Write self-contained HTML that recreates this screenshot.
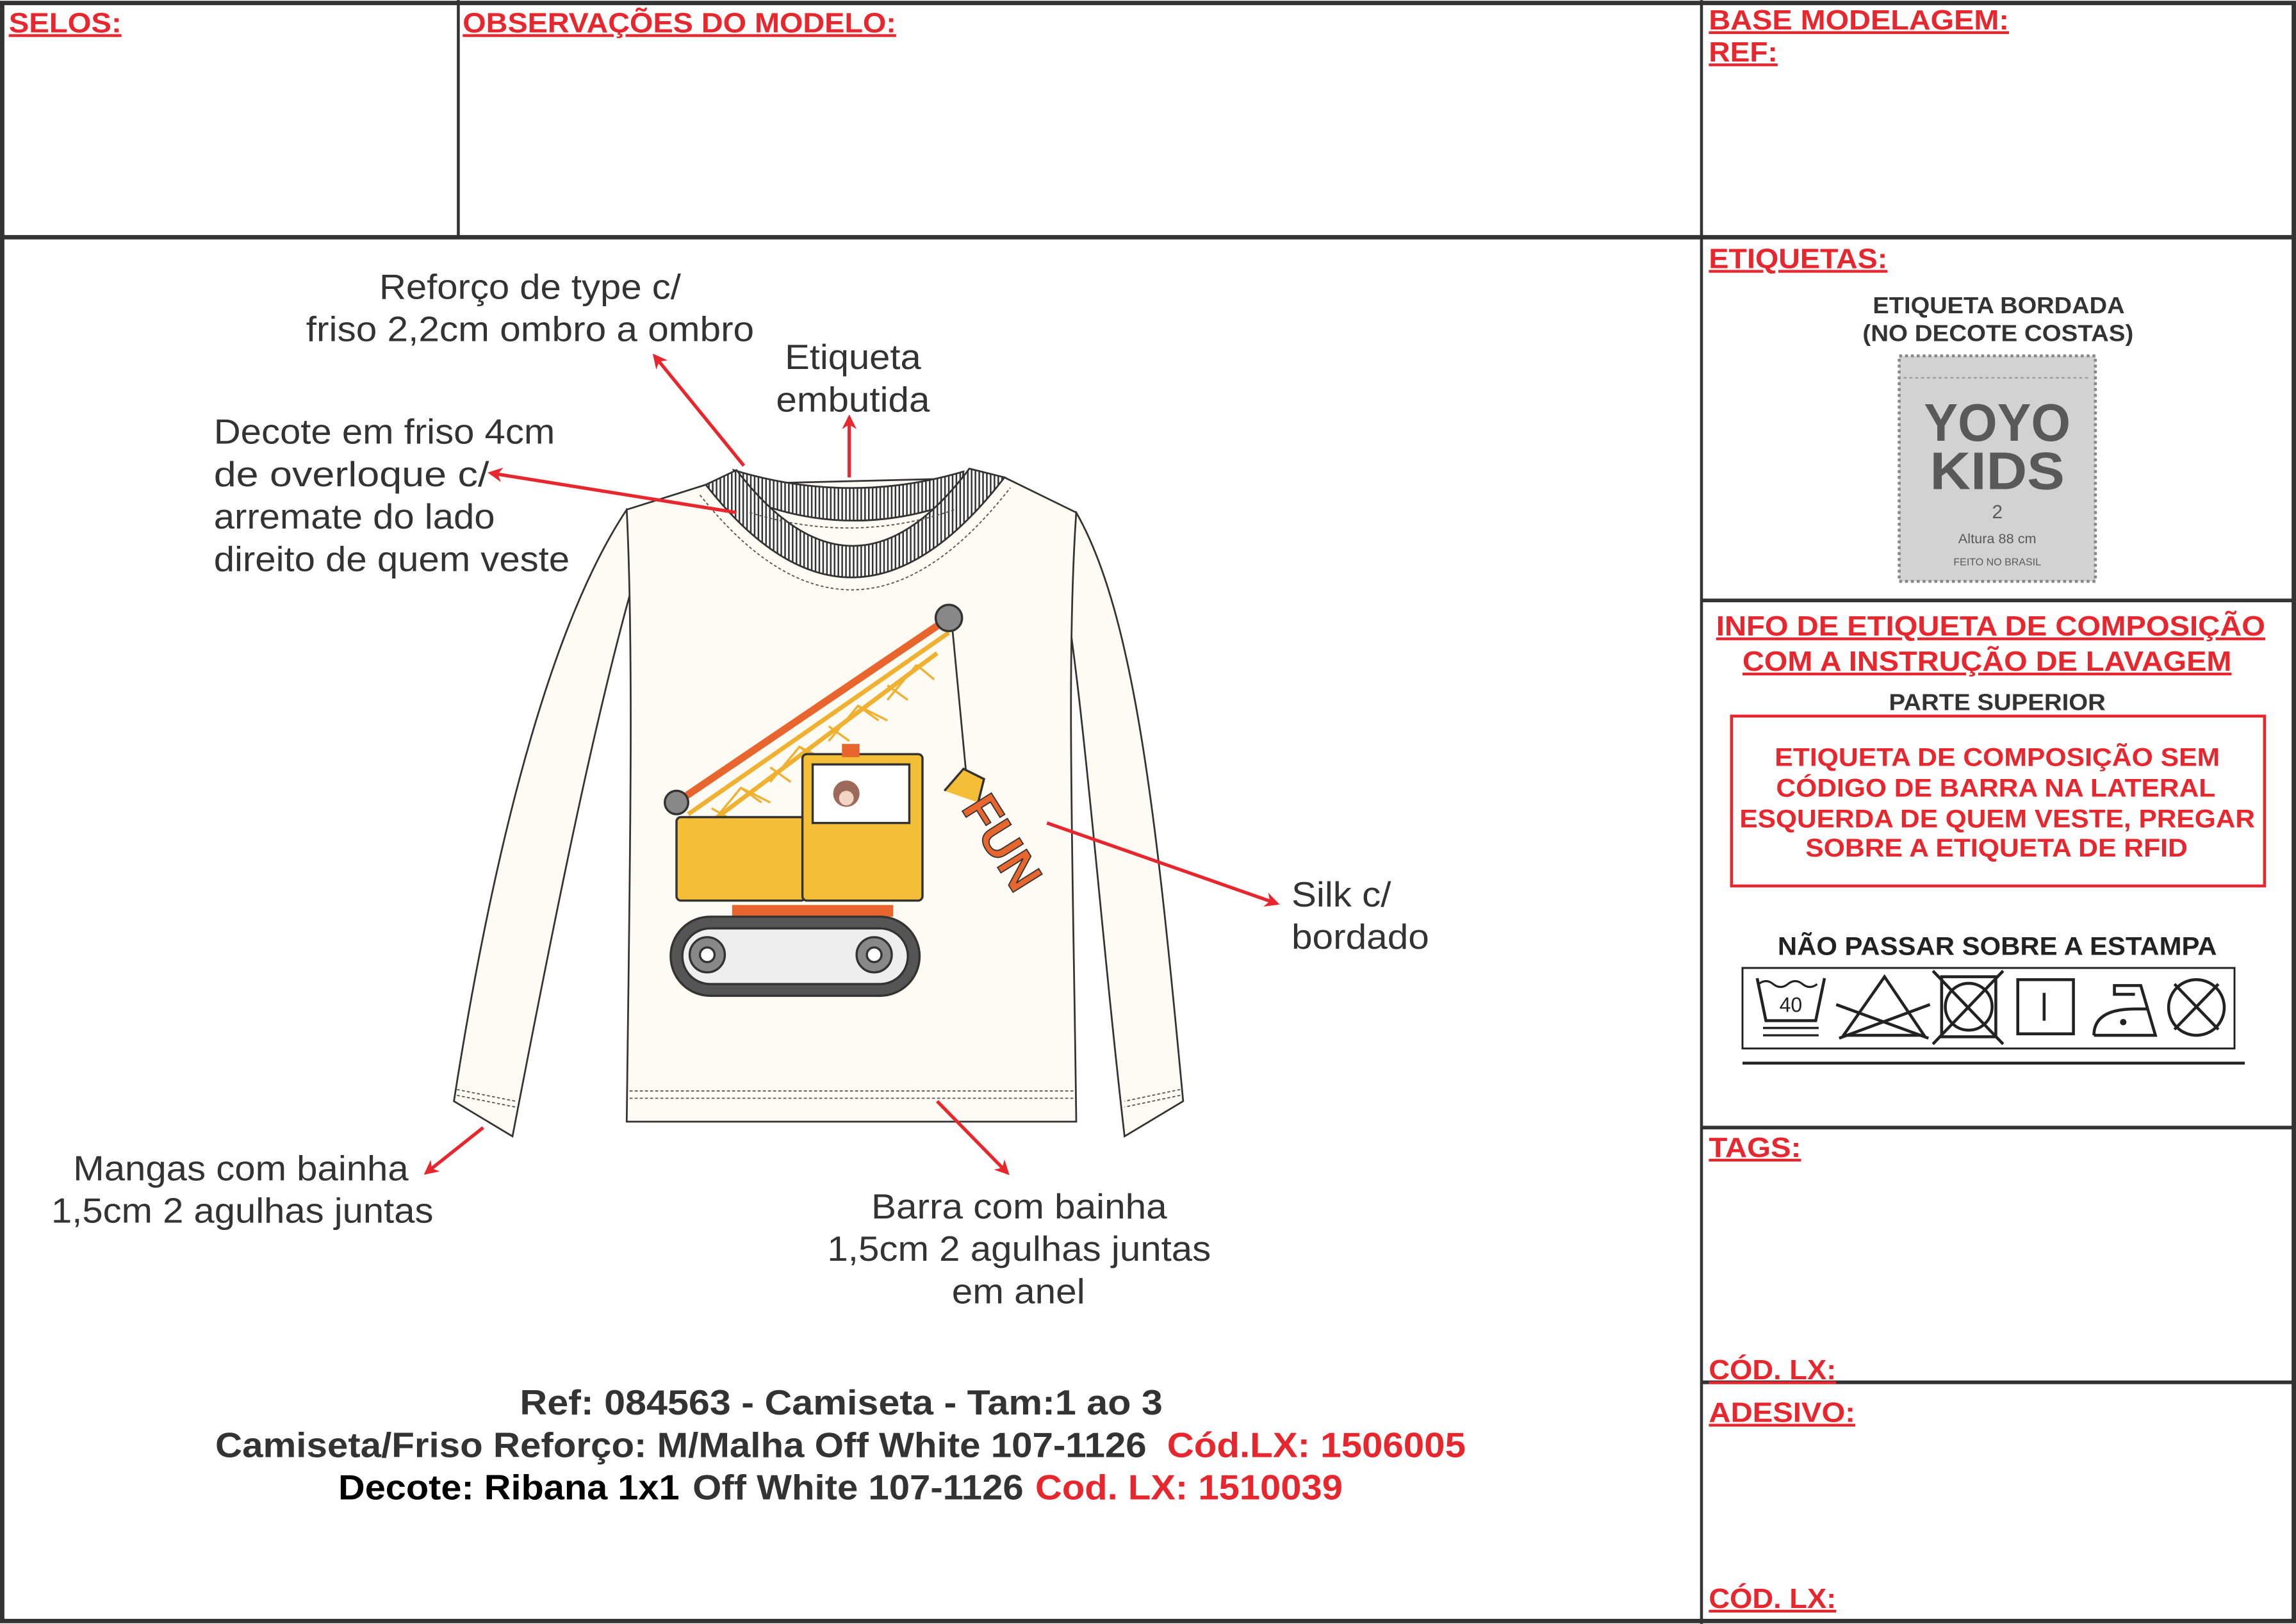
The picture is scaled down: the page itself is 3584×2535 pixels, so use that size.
<!DOCTYPE html>
<html><head><meta charset="utf-8"><style>
html,body{margin:0;padding:0;background:#fff;}
svg{display:block;}
text{font-family:"Liberation Sans",Arial,sans-serif;}
.r{fill:#e8262d;font-weight:bold;text-decoration:underline;font-size:19px;}
</style></head><body>
<svg width="3584" height="2535" viewBox="0 0 1568 1109" xmlns="http://www.w3.org/2000/svg">
<defs>
<marker id="ah" markerWidth="10" markerHeight="10" refX="8" refY="5" orient="auto" markerUnits="userSpaceOnUse" viewBox="0 0 10 10">
<path d="M0,0 L10,5 L0,10 L3,5 Z" fill="#e8262d"/></marker>
<pattern id="rib" width="2.6" height="3" patternUnits="userSpaceOnUse"><rect width="2.6" height="3" fill="#fff"/><rect width="1.1" height="3" fill="#333"/></pattern>
</defs>
<rect x="0" y="0" width="1568" height="1109" fill="#fff"/>
<g stroke="#333" fill="none">
<rect x="1.5" y="2" width="1565" height="1105" stroke-width="3"/>
<line x1="0" y1="162" x2="1568" y2="162" stroke-width="3"/>
<line x1="313" y1="0" x2="313" y2="162" stroke-width="2"/>
<line x1="1162" y1="0" x2="1162" y2="1109" stroke-width="2"/>
<line x1="1162" y1="410" x2="1568" y2="410" stroke-width="2.5"/>
<line x1="1162" y1="770" x2="1568" y2="770" stroke-width="2.5"/>
<line x1="1162" y1="944" x2="1568" y2="944" stroke-width="2.5"/>
</g>
<g>
<text class="r" x="6" y="22" textLength="77" lengthAdjust="spacingAndGlyphs">SELOS:</text>
<text class="r" x="316" y="22" textLength="296" lengthAdjust="spacingAndGlyphs">OBSERVAÇÕES DO MODELO:</text>
<text class="r" x="1167" y="20" textLength="205" lengthAdjust="spacingAndGlyphs">BASE MODELAGEM:</text>
<text class="r" x="1167" y="42" textLength="47" lengthAdjust="spacingAndGlyphs">REF:</text>
<text class="r" x="1167" y="183" textLength="122" lengthAdjust="spacingAndGlyphs">ETIQUETAS:</text>
<text class="r" x="1167" y="790" textLength="63" lengthAdjust="spacingAndGlyphs">TAGS:</text>
<text class="r" x="1167" y="942" textLength="87" lengthAdjust="spacingAndGlyphs">CÓD. LX:</text>
<text class="r" x="1167" y="971" textLength="100" lengthAdjust="spacingAndGlyphs">ADESIVO:</text>
<text class="r" x="1167" y="1098" textLength="87" lengthAdjust="spacingAndGlyphs">CÓD. LX:</text>
</g>

<g fill="#333" font-size="16" font-weight="bold">
<text x="1279" y="214" textLength="172" lengthAdjust="spacingAndGlyphs">ETIQUETA BORDADA</text>
<text x="1272" y="233" textLength="185" lengthAdjust="spacingAndGlyphs">(NO DECOTE COSTAS)</text>
</g>
<rect x="1297" y="243" width="134" height="154" fill="#d2d2d2" stroke="#888" stroke-width="2" stroke-dasharray="2 2"/>
<line x1="1300" y1="258" x2="1428" y2="258" stroke="#999" stroke-dasharray="2 2"/>
<g text-anchor="middle" fill="#595959" font-weight="bold">
<text x="1364" y="301" font-size="36" textLength="100" lengthAdjust="spacingAndGlyphs">YOYO</text>
<text x="1364" y="334" font-size="36" textLength="92" lengthAdjust="spacingAndGlyphs">KIDS</text>
<text x="1364" y="354" font-size="13" font-weight="normal">2</text>
<text x="1364" y="371" font-size="9.5" font-weight="normal">Altura 88 cm</text>
<text x="1364" y="386" font-size="7" font-weight="normal">FEITO NO BRASIL</text>
</g>
<text class="r" x="1172" y="434" font-size="20" textLength="375" lengthAdjust="spacingAndGlyphs">INFO DE ETIQUETA DE COMPOSIÇÃO</text>
<text class="r" x="1190" y="458" font-size="20" textLength="334" lengthAdjust="spacingAndGlyphs">COM A INSTRUÇÃO DE LAVAGEM</text>
<text x="1290" y="485" fill="#333" font-weight="bold" font-size="16" textLength="148" lengthAdjust="spacingAndGlyphs">PARTE SUPERIOR</text>
<rect x="1182.5" y="489" width="364" height="116" fill="none" stroke="#e8262d" stroke-width="2"/>
<g fill="#e8262d" font-weight="bold" font-size="17.5">
<text x="1212" y="523" textLength="304" lengthAdjust="spacingAndGlyphs">ETIQUETA DE COMPOSIÇÃO SEM</text>
<text x="1213" y="544" textLength="300" lengthAdjust="spacingAndGlyphs">CÓDIGO DE BARRA NA LATERAL</text>
<text x="1188" y="565" textLength="352" lengthAdjust="spacingAndGlyphs">ESQUERDA DE QUEM VESTE, PREGAR</text>
<text x="1233" y="585" textLength="261" lengthAdjust="spacingAndGlyphs">SOBRE A ETIQUETA DE RFID</text>
</g>
<text x="1214" y="652" fill="#222" font-weight="bold" font-size="17.5" textLength="300" lengthAdjust="spacingAndGlyphs">NÃO PASSAR SOBRE A ESTAMPA</text>
<rect x="1190" y="661" width="336" height="55" fill="none" stroke="#222" stroke-width="1.3"/>
<line x1="1190" y1="726" x2="1533" y2="726" stroke="#222" stroke-width="2"/>
<g stroke="#222" stroke-width="2" fill="none">
<path d="M1200,668 L1206,697 L1240,697 L1246,668"/>
<path d="M1201,672 q5,-4 10,0 q5,4 10,0 q5,-4 10,0 q5,4 10,0" stroke-width="1.4"/>
<line x1="1204" y1="702" x2="1242" y2="702" stroke-width="1.5"/><line x1="1204" y1="707" x2="1242" y2="707" stroke-width="1.5"/>
<path d="M1287,667 L1314,707 L1259,707 Z"/>
<line x1="1254" y1="686" x2="1317" y2="709"/><line x1="1256" y1="709" x2="1318" y2="686"/>
<rect x="1326" y="667" width="37" height="41"/><circle cx="1344.5" cy="687.5" r="16"/>
<line x1="1320" y1="663" x2="1368" y2="713"/><line x1="1368" y1="663" x2="1320" y2="713"/>
<rect x="1378" y="669" width="38" height="37"/><line x1="1396" y1="678" x2="1396" y2="697"/>
<path d="M1430,707 L1472,707 L1462,673 L1444,673 L1444,679 L1458,679 M1430,707 q0,-18 28,-18 L1466,689"/>
<circle cx="1500" cy="688" r="19"/><line x1="1485" y1="672" x2="1515" y2="703"/><line x1="1515" y1="672" x2="1485" y2="703"/>
</g>
<text x="1223" y="691" text-anchor="middle" font-size="14" fill="#222">40</text>
<circle cx="1450" cy="698" r="2.2" fill="#222"/>

<g stroke="#333" stroke-width="1.2" fill="#fdfbf4">
<path d="M428,348 C380,420 340,560 310,752 L350,776 C380,620 410,470 440,372 Z"/>
<path d="M735,350 C775,420 790,560 808,752 L768,776 C750,620 740,470 722,372 Z"/>
<path d="M428,348 L482,331 L686,326 L735,350 C728,450 733,600 735,766 L428,766 C430,600 433,450 428,348 Z"/>
<path d="M501,321 Q580,345 658,322 L655,342 Q580,370 508,340 Z" fill="url(#rib)"/>
<path d="M482,331 Q583,460 686,326 L662,320 Q583,425 503,321 Z" fill="url(#rib)"/>
</g>
<g stroke="#555" stroke-width="0.8" fill="none" stroke-dasharray="2 1.5">
<path d="M512,350 Q583,372 652,348"/>
<path d="M478,338 Q583,470 690,333"/>
<line x1="430" y1="745" x2="733" y2="745"/><line x1="430" y1="750" x2="733" y2="750"/>
<line x1="312" y1="744" x2="352" y2="752"/><line x1="312" y1="748" x2="352" y2="756"/>
<line x1="806" y1="744" x2="768" y2="752"/><line x1="806" y1="748" x2="768" y2="756"/>
</g>
<g stroke="#333" stroke-width="1.5">
<path d="M470,556 L648,432 M482,564 L640,446" stroke="#f0b030" stroke-width="3"/>
<path d="M486,552 L500,560 M506,538 L520,548 M526,524 L540,534 M546,510 L560,520 M566,496 L580,506 M586,482 L600,492 M606,468 L620,478 M626,454 L638,464 M486,562 L506,538 L526,548 M526,534 L546,510 L566,520 M566,506 L586,482 L606,492 M606,478 L626,454" stroke="#f0b030" stroke-width="1.5" fill="none"/>
<line x1="462" y1="548" x2="648" y2="422" stroke="#e8662d" stroke-width="5"/>
<line x1="650" y1="425" x2="660" y2="530" stroke="#333" stroke-width="1.2"/>
<rect x="462" y="558" width="88" height="57" fill="#f5be37" rx="3"/>
<rect x="548" y="515" width="82" height="100" fill="#f5be37" rx="3"/>
<rect x="555" y="522" width="66" height="40" fill="#fff"/>
<rect x="575" y="508" width="12" height="9" fill="#e8662d" stroke="none"/>
<rect x="500" y="618" width="110" height="8" fill="#e8662d" stroke="none"/>
<rect x="458" y="626" width="170" height="54" rx="27" fill="#555"/>
<rect x="466" y="634" width="154" height="38" rx="19" fill="#eee"/>
<circle cx="483" cy="652" r="12" fill="#888"/><circle cx="483" cy="652" r="5" fill="#fff"/>
<circle cx="597" cy="652" r="12" fill="#888"/><circle cx="597" cy="652" r="5" fill="#fff"/>
<circle cx="462" cy="548" r="8" fill="#888"/><circle cx="648" cy="422" r="9" fill="#888"/>
<path d="M645,540 L658,525 L672,532 L668,548" fill="#f5be37"/>
</g>
<circle cx="578" cy="542" r="9" fill="#9c6a5a"/><circle cx="578" cy="545" r="5" fill="#f3d3c3"/>
<text x="0" y="0" transform="translate(656,552) rotate(58)" font-size="34" font-weight="bold" fill="#e8662d" stroke="#333" stroke-width="0.8">FUN</text>

<g fill="#333" font-size="24">
<text x="259" y="204" textLength="206" lengthAdjust="spacingAndGlyphs">Reforço de type c/</text>
<text x="209" y="233" textLength="306" lengthAdjust="spacingAndGlyphs">friso 2,2cm ombro a ombro</text>
<text x="536" y="252" textLength="93" lengthAdjust="spacingAndGlyphs">Etiqueta</text>
<text x="530" y="281" textLength="105" lengthAdjust="spacingAndGlyphs">embutida</text>
<text x="146" y="303" textLength="233" lengthAdjust="spacingAndGlyphs">Decote em friso 4cm</text>
<text x="146" y="332" textLength="188" lengthAdjust="spacingAndGlyphs">de overloque c/</text>
<text x="146" y="361" textLength="192" lengthAdjust="spacingAndGlyphs">arremate do lado</text>
<text x="146" y="390" textLength="243" lengthAdjust="spacingAndGlyphs">direito de quem veste</text>
<text x="882" y="619" textLength="68" lengthAdjust="spacingAndGlyphs">Silk c/</text>
<text x="882" y="648" textLength="94" lengthAdjust="spacingAndGlyphs">bordado</text>
<text x="50" y="806" textLength="229" lengthAdjust="spacingAndGlyphs">Mangas com bainha</text>
<text x="35" y="835" textLength="261" lengthAdjust="spacingAndGlyphs">1,5cm 2 agulhas juntas</text>
<text x="595" y="832" textLength="202" lengthAdjust="spacingAndGlyphs">Barra com bainha</text>
<text x="565" y="861" textLength="262" lengthAdjust="spacingAndGlyphs">1,5cm 2 agulhas juntas</text>
<text x="650" y="890" textLength="91" lengthAdjust="spacingAndGlyphs">em anel</text>
</g>
<g stroke="#e8262d" stroke-width="2.3" marker-end="url(#ah)">
<line x1="508" y1="318" x2="447" y2="243"/>
<line x1="503" y1="350" x2="335" y2="323"/>
<line x1="580" y1="326" x2="580" y2="285"/>
<line x1="715" y1="562" x2="872" y2="617"/>
<line x1="330" y1="770" x2="291" y2="801"/>
<line x1="640" y1="752" x2="688" y2="801"/>
</g>
<g font-weight="bold" font-size="24" fill="#333">
<text x="355" y="966" textLength="439" lengthAdjust="spacingAndGlyphs">Ref: 084563 - Camiseta -  Tam:1 ao 3</text>
<text x="147" y="995" textLength="636" lengthAdjust="spacingAndGlyphs">Camiseta/Friso Reforço: M/Malha Off White 107-1126</text>
<text x="797" y="995" fill="#e8262d" textLength="204" lengthAdjust="spacingAndGlyphs">Cód.LX: 1506005</text>
<text x="231" y="1024" fill="#000" textLength="233" lengthAdjust="spacingAndGlyphs">Decote: Ribana 1x1</text>
<text x="473" y="1024" textLength="226" lengthAdjust="spacingAndGlyphs">Off White 107-1126</text>
<text x="707" y="1024" fill="#e8262d" textLength="210" lengthAdjust="spacingAndGlyphs">Cod. LX: 1510039</text>
</g>
</svg>
</body></html>
